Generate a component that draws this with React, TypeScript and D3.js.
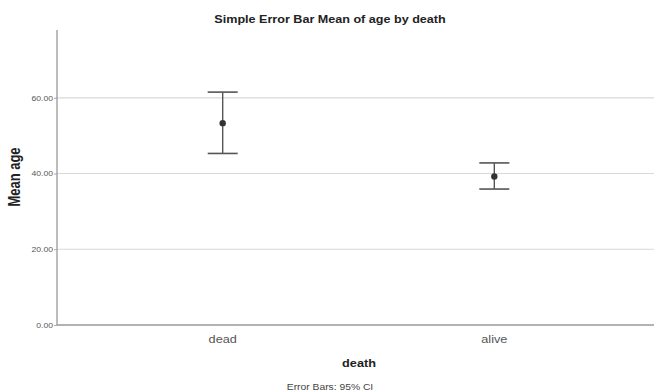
import React, { useEffect, useRef } from "react";
import { select, scaleLinear, scalePoint, axisLeft } from "d3";

const categories = ["dead", "alive"];
const means = [53.3, 39.2];
const lowerCI = [45.3, 35.9];
const upperCI = [61.5, 42.8];
const yTicks = [0, 20, 40, 60];

const width = 654;
const height = 392;
const margin = { top: 30, right: -6, bottom: 67, left: 57 };
// the source picture is a bit stretched sideways, so text gets widened too
const sx = 1.2;
const font = "Arial, Liberation Sans, sans-serif";

const App = () => {
  const svgRef = useRef<SVGSVGElement>(null);

  useEffect(() => {
    const svg = select(svgRef.current);
    svg.selectAll("*").remove();

    const x0 = margin.left;
    const x1 = width - margin.right;
    const y0 = height - margin.bottom;
    const y1 = margin.top;

    const xScale = scalePoint().domain(categories).range([x0, x1]).padding(0.61);
    const yScale = scaleLinear().domain([0, 77.9]).range([y0, y1]);

    // grid
    svg
      .append("g")
      .selectAll("line")
      .data(yTicks.filter((t) => t > 0))
      .enter()
      .append("line")
      .attr("x1", x0)
      .attr("x2", width)
      .attr("y1", (d) => yScale(d))
      .attr("y2", (d) => yScale(d))
      .attr("stroke", "#d9d9d9")
      .attr("stroke-width", 1.2);

    // y axis
    const yAxis = axisLeft(yScale)
      .tickValues(yTicks)
      .tickSize(3)
      .tickFormat((d) => Number(d).toFixed(2));
    svg
      .append("g")
      .attr("transform", `translate(${x0},0)`)
      .call(yAxis)
      .call((g) => g.select(".domain").remove())
      .call((g) => g.selectAll(".tick line").attr("stroke", "#aaa"))
      .call((g) =>
        g
          .selectAll(".tick text")
          .attr("font-family", font)
          .attr("font-size", 7.2)
          .attr("fill", "#555")
          .attr("x", -4 / sx)
          .attr("transform", `scale(${sx},1)`),
      );

    svg
      .append("line")
      .attr("x1", x0)
      .attr("x2", x0)
      .attr("y1", y1)
      .attr("y2", y0)
      .attr("stroke", "#999")
      .attr("stroke-width", 1.3);
    svg
      .append("line")
      .attr("x1", x0)
      .attr("x2", width)
      .attr("y1", y0)
      .attr("y2", y0)
      .attr("stroke", "#999")
      .attr("stroke-width", 1.3);

    // x labels
    svg
      .append("g")
      .selectAll("text")
      .data(categories)
      .enter()
      .append("text")
      .text((d) => d)
      .attr("transform", (d) => `translate(${xScale(d)},${y0 + 18}) scale(${sx},1)`)
      .attr("text-anchor", "middle")
      .attr("font-family", font)
      .attr("font-size", 10.6)
      .attr("fill", "#555");

    // error bars
    const bars = svg
      .selectAll(".bar")
      .data(categories)
      .enter()
      .append("g")
      .classed("bar", true);
    const cap = 15;
    bars
      .append("line")
      .attr("x1", (d) => xScale(d)!)
      .attr("x2", (d) => xScale(d)!)
      .attr("y1", (_, i) => yScale(lowerCI[i]))
      .attr("y2", (_, i) => yScale(upperCI[i]))
      .attr("stroke", "#555")
      .attr("stroke-width", 1.4);
    [lowerCI, upperCI].forEach((arr) => {
      bars
        .append("line")
        .attr("x1", (d) => xScale(d)! - cap)
        .attr("x2", (d) => xScale(d)! + cap)
        .attr("y1", (_, i) => yScale(arr[i]))
        .attr("y2", (_, i) => yScale(arr[i]))
        .attr("stroke", "#555")
        .attr("stroke-width", 1.6);
    });
    bars
      .append("circle")
      .attr("cx", (d) => xScale(d)!)
      .attr("cy", (_, i) => yScale(means[i]))
      .attr("r", 3.2)
      .attr("fill", "#333");

    // titles
    svg
      .append("text")
      .text("Simple Error Bar Mean of age by death")
      .attr("transform", `translate(330,23) scale(${sx},1)`)
      .attr("text-anchor", "middle")
      .attr("font-family", font)
      .attr("font-weight", "bold")
      .attr("font-size", 10.5)
      .attr("fill", "#222");
    svg
      .append("text")
      .text("death")
      .attr("transform", `translate(359,367) scale(${sx},1)`)
      .attr("text-anchor", "middle")
      .attr("font-family", font)
      .attr("font-weight", "bold")
      .attr("font-size", 10.6)
      .attr("fill", "#222");
    svg
      .append("text")
      .text("Error Bars: 95% CI")
      .attr("transform", `translate(330,390) scale(${sx},1)`)
      .attr("text-anchor", "middle")
      .attr("font-family", font)
      .attr("font-size", 8.6)
      .attr("fill", "#444");
    svg
      .append("text")
      .text("Mean age")
      .attr("transform", `translate(20,177) scale(${sx},1) rotate(-90)`)
      .attr("text-anchor", "middle")
      .attr("font-family", font)
      .attr("font-weight", "bold")
      .attr("font-size", 13)
      .attr("fill", "#222");
  }, []);

  return (
    <svg
      ref={svgRef}
      width={width}
      height={height}
      style={{ position: "absolute", left: 0, top: 0, background: "#fff" }}
    />
  );
};

export default App;
